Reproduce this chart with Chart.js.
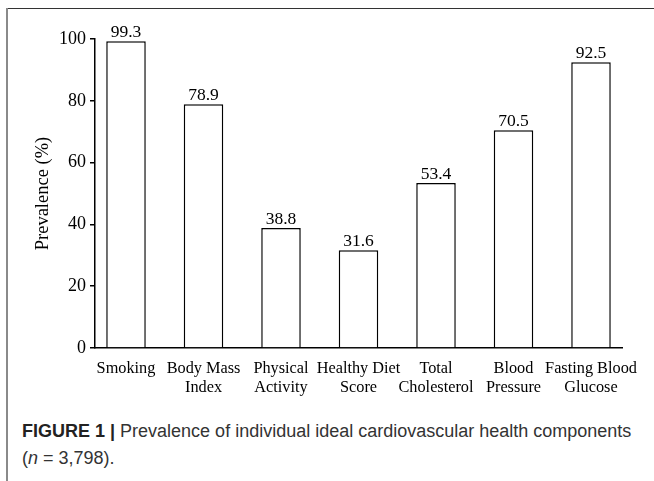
<!DOCTYPE html>
<html>
<head>
<meta charset="utf-8">
<script src="https://cdn.jsdelivr.net/npm/chart.js@4.4.1/dist/chart.umd.min.js"></script>
<style>
  html, body { margin: 0; padding: 0; background: #fff; }
  #wrap { position: relative; width: 654px; height: 481px; overflow: hidden; background: #fff; }
  #frameTop { position: absolute; left: 6px; top: 8px; width: 648px; height: 0; border-top: 1.5px solid #333; }
  #frameLeft { position: absolute; left: 6px; top: 8px; width: 0; height: 473px; border-left: 2px solid #8a8a8a; }
  #chart { position: absolute; left: 0; top: 0; }
  #caption { position: absolute; left: 22px; top: 418px; width: 630px; white-space: nowrap; font-family: "Liberation Sans", Arial, sans-serif; font-size: 18px; line-height: 27px; color: #333; }
  #caption b { color: #222; }
</style>
</head>
<body>
<div id="wrap">
  <canvas id="chart" width="654" height="410"></canvas>
  <div id="frameTop"></div>
  <div id="frameLeft"></div>
  <div id="caption"><b>FIGURE 1 |</b> Prevalence of individual ideal cardiovascular health components<br>(<i>n</i> = 3,798).</div>
</div>
<script>
const categories = [
  ["Smoking"],
  ["Body Mass", "Index"],
  ["Physical", "Activity"],
  ["Healthy Diet", "Score"],
  ["Total", "Cholesterol"],
  ["Blood", "Pressure"],
  ["Fasting Blood", "Glucose"]
];
const prevalence = [99.3, 78.9, 38.8, 31.6, 53.4, 70.5, 92.5];
const yTicks = [0, 20, 40, 60, 80, 100];
const yTitle = "Prevalence (%)";

const serif = "'Liberation Serif', 'Times New Roman', serif";

const valueLabels = {
  id: 'valueLabels',
  afterDatasetsDraw(chart) {
    const ctx = chart.ctx;
    const meta = chart.getDatasetMeta(0);
    ctx.save();
    ctx.fillStyle = '#000';
    ctx.font = "17.5px " + serif;
    ctx.textAlign = 'center';
    ctx.textBaseline = 'alphabetic';
    meta.data.forEach((bar, i) => {
      ctx.fillText(prevalence[i].toFixed(1), bar.x, bar.y - 4);
    });
    ctx.restore();
  }
};

new Chart(document.getElementById('chart'), {
  type: 'bar',
  data: {
    datasets: [{
      data: prevalence.map((v, i) => ({ x: i, y: v })),
      backgroundColor: '#ffffff',
      borderColor: '#000000',
      borderWidth: 1.5,
      borderSkipped: 'bottom',
      categoryPercentage: 0.51,
      barPercentage: 1
    }]
  },
  options: {
    responsive: false,
    animation: false,
    devicePixelRatio: 1,
    layout: { padding: { left: 0, right: 32, top: 39, bottom: 0 } },
    plugins: { legend: { display: false }, tooltip: { enabled: false }, title: { display: false } },
    scales: {
      x: {
        type: 'linear',
        min: -0.4,
        max: 6.4,
        offset: false,
        grid: { display: false, drawTicks: false, offset: false },
        border: { display: true, color: '#000', width: 1.5 },
        afterBuildTicks: (scale) => { scale.ticks = categories.map((c, i) => ({ value: i })); },
        afterFit: (scale) => { scale.height = 62; },
        ticks: {
          autoSkip: false,
          maxRotation: 0,
          minRotation: 0,
          padding: 12,
          color: '#000',
          font: { family: serif, size: 16.3, lineHeight: 1.12 },
          callback: (value, index) => categories[index]
        }
      },
      y: {
        min: 0,
        max: 100,
        afterBuildTicks: (scale) => { scale.ticks = yTicks.map(v => ({ value: v })); },
        afterFit: (scale) => { scale.width = 95; },
        grid: { display: true, drawOnChartArea: false, drawTicks: true, tickLength: 5, color: '#000', lineWidth: 1.5 },
        border: { display: true, color: '#000', width: 1.5 },
        ticks: {
          padding: 4,
          color: '#000',
          font: { family: serif, size: 18 }
        },
        title: {
          display: true,
          text: yTitle,
          color: '#000',
          font: { family: serif, size: 18.5 },
          padding: { top: 32, bottom: 0 }
        }
      }
    }
  },
  plugins: [valueLabels]
});
</script>
</body>
</html>
